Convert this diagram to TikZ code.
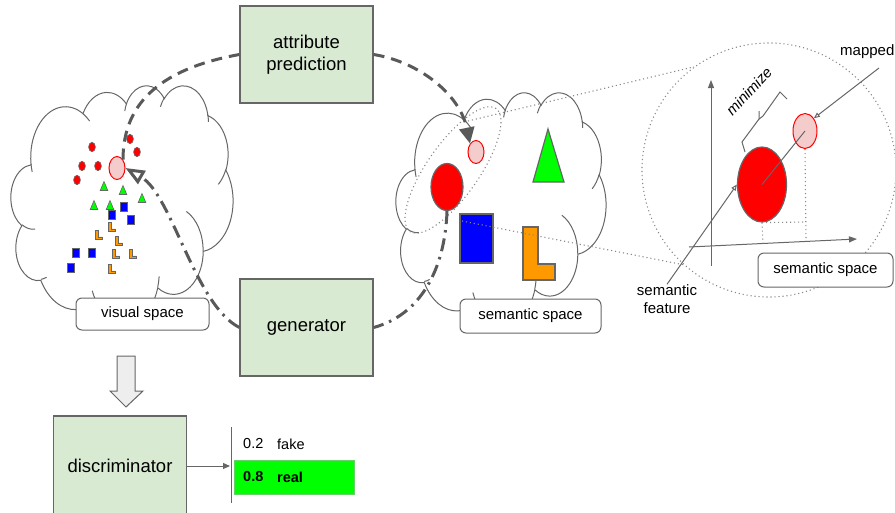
\documentclass[tikz,border=0pt]{standalone}
\usepackage{fontspec}
\setmainfont{Liberation Sans}
\usetikzlibrary{arrows.meta,shapes.geometric}

\definecolor{boxgreen}{HTML}{D9EAD3}
\definecolor{edgegray}{HTML}{666666}
\definecolor{flowgray}{HTML}{595959}
\definecolor{dotgray}{HTML}{888888}
\definecolor{pinkfill}{HTML}{F4CCCC}
\definecolor{brightgreen}{HTML}{00FF00}
\definecolor{arrowfill}{HTML}{EEEEEE}
\definecolor{lorange}{HTML}{FF9900}
\definecolor{pureblue}{HTML}{0000FF}
\definecolor{purered}{HTML}{FF0000}

% one lobe of a cloud outline: x radius, y radius, start angle, sweep
% (angles are geometric, converted here to the parametric form TikZ uses)
\newcommand\cloudarc[4]{%
  \pgfextra{%
    \pgfmathsetmacro\cloudS{atan2(sin(#3)/#2,cos(#3)/#1)}%
    \pgfmathsetmacro\cloudE{atan2(sin(#3+#4)/#2,cos(#3+#4)/#1)}%
    \pgfmathsetmacro\cloudD{#4+Mod(\cloudE-\cloudS-#4+180,360)-180}%
    \global\let\cloudS\cloudS
    \global\let\cloudD\cloudD}%
  arc[start angle=\cloudS, delta angle=\cloudD, x radius=#1, y radius=#2]}

% cloud in the box with top-left corner (#1,#2), width #3, height #4
\newcommand\drawcloud[4]{%
  \pgfmathsetmacro\cloudsx{#3/43.2}%
  \pgfmathsetmacro\cloudsy{#4/43.2}%
  \begin{scope}[shift={(#1,#2)}, x=\cloudsx pt, y=-\cloudsy pt]
    \path[cloudline, fill=white] (3.9,14.37)
      \cloudarc{6.753}{9.19}{-190.487}{123.781}
      \cloudarc{5.333}{7.267}{-144.102}{89.945}
      \cloudarc{4.365}{5.945}{-145.808}{99.723}
      \cloudarc{4.857}{6.595}{-130.986}{117.242}
      \cloudarc{5.333}{7.273}{-78.709}{109.027}
      \cloudarc{6.775}{9.22}{-46.267}{130.269}
      \cloudarc{5.785}{7.867}{0.625}{114.033}
      \cloudarc{6.752}{9.215}{22.452}{115.173}
      \cloudarc{7.72}{10.543}{66.243}{75.711}
      \cloudarc{4.36}{5.918}{-274.942}{146.736}
      \cloudarc{4.345}{5.945}{-246.829}{152.519} -- cycle;
    \path[cloudline]
      (4.693,26.177) \cloudarc{4.345}{5.945}{86.742}{26.430}
      (6.928,34.899) \cloudarc{4.36}{5.918}{73.610}{11.447}
      (16.478,39.09) \cloudarc{6.752}{9.215}{137.624}{14.081}
      (28.827,34.751) \cloudarc{6.752}{9.215}{6.453}{15.998}
      (34.129,22.954) \cloudarc{5.785}{7.867}{-70.292}{70.917}
      (41.798,15.354) \cloudarc{5.333}{7.273}{30.318}{27.752}
      (38.324,5.426) \cloudarc{4.857}{6.595}{-13.744}{14.859}
      (29.078,3.952) \cloudarc{4.857}{6.595}{-149.181}{18.195}
      (22.141,4.72) \cloudarc{4.365}{5.945}{-163.494}{17.686}
      (14.0,5.192) \cloudarc{6.753}{9.19}{-66.707}{12.319}
      (4.127,15.789) \cloudarc{6.753}{9.19}{157.654}{11.858};
  \end{scope}}

\begin{document}
\begin{tikzpicture}[x=1pt, y=-1pt,
  procbox/.style={draw=edgegray, fill=boxgreen, line width=1.2pt,
    minimum width=133pt, minimum height=97pt, inner sep=0pt, align=center,
    font=\fontsize{18.5}{22}\selectfont},
  spacelabel/.style={draw=edgegray, fill=white, rounded corners=6pt,
    line width=1pt, inner sep=0pt, minimum height=33pt,
    font=\fontsize{15}{18}\selectfont},
  cloudline/.style={draw=edgegray, line width=1pt},
  dashflow/.style={draw=flowgray, line width=3pt, dash pattern=on 11pt off 7pt},
  dotflow/.style={draw=flowgray, line width=3pt,
    dash pattern=on 13pt off 6pt on 2.5pt off 6pt},
  thinline/.style={draw=edgegray, line width=1pt},
  zoomdots/.style={draw=dotgray, line width=1.1pt, dash pattern=on 1.1pt off 2.9pt},
  labeltxt/.style={font=\fontsize{15}{18}\selectfont, inner sep=0pt},
  scoretxt/.style={font=\fontsize{14.5}{17}\selectfont, inner sep=0pt, anchor=west},
  marker/.style={draw=edgegray, line width=0.6pt},
  figure/.style={draw=edgegray, line width=1.2pt},
]
\useasboundingbox (0,0) rectangle (895,512);

% ---------- the two spaces ----------
\drawcloud{11}{85}{222}{238}
\drawcloud{396}{92}{210}{232}

% visual space: feature points of the classes
\foreach \x/\y in {92/147,130/139,137/152,82/166,98/166,77/180}
  \draw[marker, fill=purered] (\x,\y) ellipse[x radius=3.4, y radius=4.7];
\foreach \x/\y in {104/186,123/190,94/205,110/205,142/198}
  \draw[marker, fill=brightgreen] (\x,\y-4.5) -- (\x+3.8,\y+4.5) -- (\x-3.8,\y+4.5) -- cycle;
\foreach \x/\y in {124/207,112/215,131/220,76/253,92/253,71/268}
  \draw[marker, fill=pureblue] (\x-3.5,\y-4.5) rectangle (\x+3.5,\y+4.5);
\foreach \x/\y in {112/227,99/235,119/241,116/254,133/254,112/269}
  \draw[marker, fill=lorange] (\x-3.5,\y-4.5) -- (\x-0.3,\y-4.5) -- (\x-0.3,\y+1.8)
    -- (\x+3.5,\y+1.8) -- (\x+3.5,\y+4.5) -- (\x-3.5,\y+4.5) -- cycle;
\node[ellipse, draw=purered, fill=pinkfill, line width=1pt, inner sep=0pt,
  minimum width=16pt, minimum height=23pt] (vpink) at (117,168) {};

% semantic space: class prototypes
\draw[figure, fill=brightgreen] (548,129) -- (564,182) -- (533,182) -- cycle;
\draw[figure, fill=pureblue] (460,214) rectangle (493,263);
\draw[figure, fill=lorange] (523,227) -- (538,227) -- (538,264) -- (555,264)
  -- (555,280) -- (523,280) -- cycle;
\node[ellipse, draw=purered, fill=pinkfill, line width=1pt, inner sep=0pt,
  minimum width=16pt, minimum height=23pt] (spink) at (476,152) {};
\node[ellipse, draw=edgegray, fill=purered, line width=1.2pt, inner sep=0pt,
  minimum width=32pt, minimum height=47pt] (sred) at (447,187) {};
\node[ellipse, zoomdots, rotate=55, inner sep=0pt,
  minimum width=150pt, minimum height=52pt] (focus) at (453,170) {};

% ---------- magnified view ----------
\node[circle, zoomdots, inner sep=0pt, minimum size=254pt] (zoomc) at (769,170) {};
\coordinate (ztop) at (468,121);
\coordinate (zbot) at (462,221);
\draw[zoomdots] (ztop) -- (zoomc.126);
\draw[zoomdots] (zbot) -- (zoomc.228);

\coordinate (ybot) at (711,266);
\coordinate (ytop) at (711,80);
\coordinate (xleft) at (689,247);
\coordinate (xright) at (857,239);
\draw[thinline, -{Triangle[length=8pt,width=6pt]}] (ybot) -- (ytop);
\draw[thinline, -{Triangle[length=8pt,width=6pt]}] (xleft) -- (xright);

\node[ellipse, draw=edgegray, fill=purered, line width=1.2pt, inner sep=0pt,
  minimum width=49pt, minimum height=75pt] (bigred) at (762,184.5) {};
\node[ellipse, draw=purered, fill=pinkfill, line width=1pt, inner sep=0pt,
  minimum width=24pt, minimum height=35pt] (bigpink) at (805,131) {};

\coordinate (redfoot) at (763,245);
\coordinate (pinkfoot) at (806,241);
\coordinate (redlevel) at (806,222);
\draw[zoomdots] (bigred.south) -- (redfoot);
\draw[zoomdots] (bigred.south) -- (redlevel);
\draw[zoomdots] (bigpink.south) -- (pinkfoot);

\draw[thinline] (bigred.center) -- (bigpink.center);

\node[labeltxt, align=center] (sflabel) at (667,299) {semantic\\feature};
\draw[thinline, -{Triangle[open,length=6pt,width=5pt]}] (sflabel.north) -- (bigred.west);

\node[labeltxt, anchor=west] (mapped) at (840,52) {mapped};
\coordinate (mapstart) at (879,68);
\draw[thinline, -{Triangle[open,length=6pt,width=5pt]}] (mapstart) -- (bigpink.north east);

% bracket for the distance to be minimised
\draw[thinline] (745,152) -- (742,142) -- (759,119) -- (759,111);
\draw[thinline] (759,119) -- (763,116) -- (780,92) -- (787,99);
\node[labeltxt, font=\fontsize{15}{18}\selectfont\itshape, rotate=47] (minlabel)
  at (749,91) {minimize};

% ---------- labels of the spaces ----------
\node[spacelabel, minimum width=133pt, minimum height=32pt] (vislabel) at (142.5,314) {visual space};
\node[spacelabel, minimum width=141pt, minimum height=34pt] (semlabel) at (530.5,316) {semantic space};
\node[spacelabel, minimum width=135pt, minimum height=34pt] (zoomlabel) at (825.5,270) {semantic space};

% ---------- processing blocks ----------
\node[procbox] (attr) at (306.5,54.5) {attribute\\prediction};
\node[procbox] (gen) at (306.5,327.5) {generator};
\node[procbox, minimum height=100pt] (disc) at (120,466) {discriminator};

% attribute prediction: visual feature -> semantic space
\draw[dashflow] (vpink.north east) .. controls (123,100) and (165,68) .. (attr.west);
\draw[dashflow, -{Triangle[length=16pt,width=15pt]}]
  (attr.east) .. controls (420,62) and (460,95) .. (spink.north west);

% generator: semantic prototype -> visual space
\draw[dotflow] (sred.south) .. controls (445,270) and (420,315) .. (gen.east);
\draw[dotflow, -{Triangle[open,length=19pt,width=15pt]}]
  (gen.west) .. controls (195,305) and (172,195) .. (vpink.east);

% ---------- discriminator branch ----------
\draw[draw=edgegray, fill=arrowfill, line width=1pt]
  (117,356) -- (135,356) -- (135,391) -- (143,391) -- (126,407) -- (110,391)
  -- (117,391) -- cycle;

\coordinate (bartop) at (231,427);
\coordinate (barbot) at (231,503);
\coordinate (barmid) at (230,466);
\draw[thinline] (bartop) -- (barbot);
\draw[thinline, -{Triangle[length=7pt,width=6pt]}] (disc.east) -- (barmid);

\node[fill=brightgreen, draw=brightgreen!70!black!60, line width=0.5pt,
  minimum width=120pt, minimum height=34pt, inner sep=0pt, anchor=north west]
  (realbar) at (234,460) {};
\node[scoretxt] (fakescore) at (243,444) {0.2};
\node[scoretxt] (fakename) at (277,444) {fake};
\node[scoretxt, font=\fontsize{14.5}{17}\selectfont\bfseries] (realscore) at (243,477) {0.8};
\node[scoretxt, font=\fontsize{14.5}{17}\selectfont\bfseries] (realname) at (277,477) {real};
\end{tikzpicture}
\end{document}
